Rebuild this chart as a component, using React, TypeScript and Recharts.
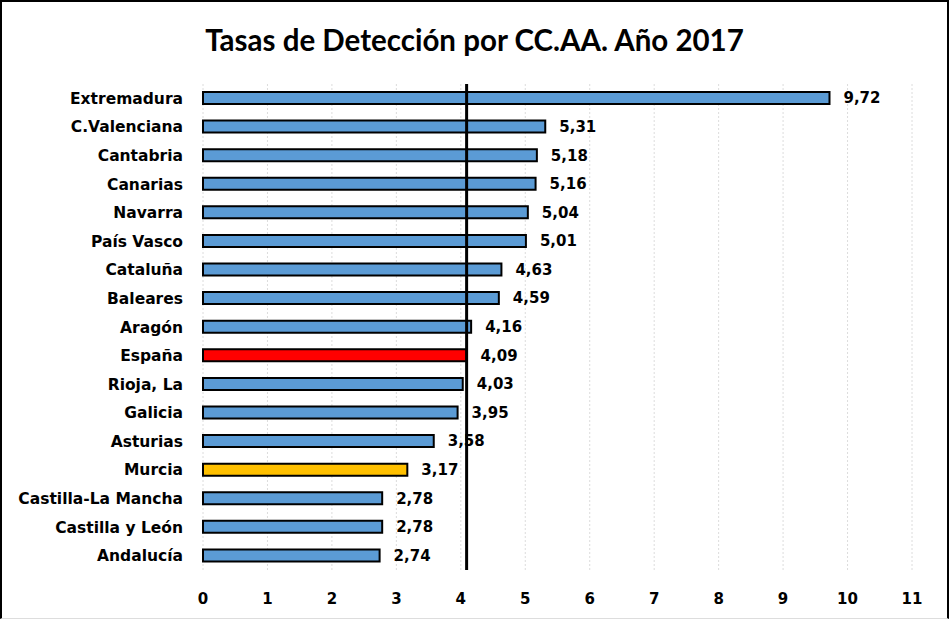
import { BarChart, Bar, XAxis, YAxis, CartesianGrid, ReferenceLine, LabelList, Cell } from 'recharts';

const regions = [
  'Extremadura',
  'C.Valenciana',
  'Cantabria',
  'Canarias',
  'Navarra',
  'País Vasco',
  'Cataluña',
  'Baleares',
  'Aragón',
  'España',
  'Rioja, La',
  'Galicia',
  'Asturias',
  'Murcia',
  'Castilla-La Mancha',
  'Castilla y León',
  'Andalucía',
];
const rates = [9.72, 5.31, 5.18, 5.16, 5.04, 5.01, 4.63, 4.59, 4.16, 4.09, 4.03, 3.95, 3.58, 3.17, 2.78, 2.78, 2.74];
const xTicks = [0, 1, 2, 3, 4, 5, 6, 7, 8, 9, 10, 11];

const BLUE = '#5b9bd5';
const highlight: Record<string, string> = { España: '#ff0000', Murcia: '#ffc000' };
const FONT = '"DejaVu Sans", Verdana, sans-serif';

const data = regions.map((name, i) => ({ name, value: rates[i] }));
const spainRate = rates[regions.indexOf('España')];

const fmt = (v: number) => v.toFixed(2).replace('.', ',');

export default function App() {
  return (
    <div
      style={{
        position: 'absolute',
        left: 0,
        top: 0,
        width: 949,
        height: 619,
        boxSizing: 'border-box',
        borderLeft: '2px solid #000',
        borderTop: '2px solid #000',
        borderRight: '2px solid #000',
        borderBottom: '1px solid #ddd',
        background: '#fff',
      }}
    >
      <div
        style={{
          position: 'absolute',
          left: 0,
          right: 0,
          top: 20,
          textAlign: 'center',
          fontFamily: 'Lato, "Open Sans", sans-serif',
          fontWeight: 700,
          fontSize: 29.5,
          color: '#000',
        }}
      >
        Tasas de Detección por CC.AA. Año 2017
      </div>
      <BarChart
        width={945}
        height={616}
        data={data}
        layout="vertical"
        margin={{ top: 82, right: 35, bottom: 18, left: 0 }}
        style={{ position: 'absolute', left: 0, top: 0 }}
      >
        <CartesianGrid horizontal={false} stroke="#dcdcdc" strokeDasharray="2 2" />
        <XAxis
          type="number"
          domain={[0, 11]}
          ticks={xTicks}
          interval={0}
          axisLine={false}
          tickLine={false}
          tickMargin={17}
          height={30}
          tick={{ fill: '#000', fontSize: 15, fontWeight: 700, fontFamily: FONT }}
        />
        <YAxis
          type="category"
          dataKey="name"
          width={201}
          axisLine={false}
          tickLine={false}
          tickSize={0}
          tickMargin={20}
          interval={0}
          tick={{ fill: '#000', fontSize: 15.5, fontWeight: 700, fontFamily: FONT }}
        />
        <Bar dataKey="value" barSize={12} stroke="#000" strokeWidth={2} isAnimationActive={false}>
          {data.map((d) => (
            <Cell key={d.name} fill={highlight[d.name] ?? BLUE} />
          ))}
          <LabelList
            dataKey="value"
            position="right"
            offset={14}
            formatter={(v: number) => fmt(Number(v))}
            style={{ fill: '#000', fontSize: 15, fontWeight: 700, fontFamily: FONT }}
          />
        </Bar>
        <ReferenceLine x={spainRate} stroke="#000" strokeWidth={3} />
      </BarChart>
    </div>
  );
}
